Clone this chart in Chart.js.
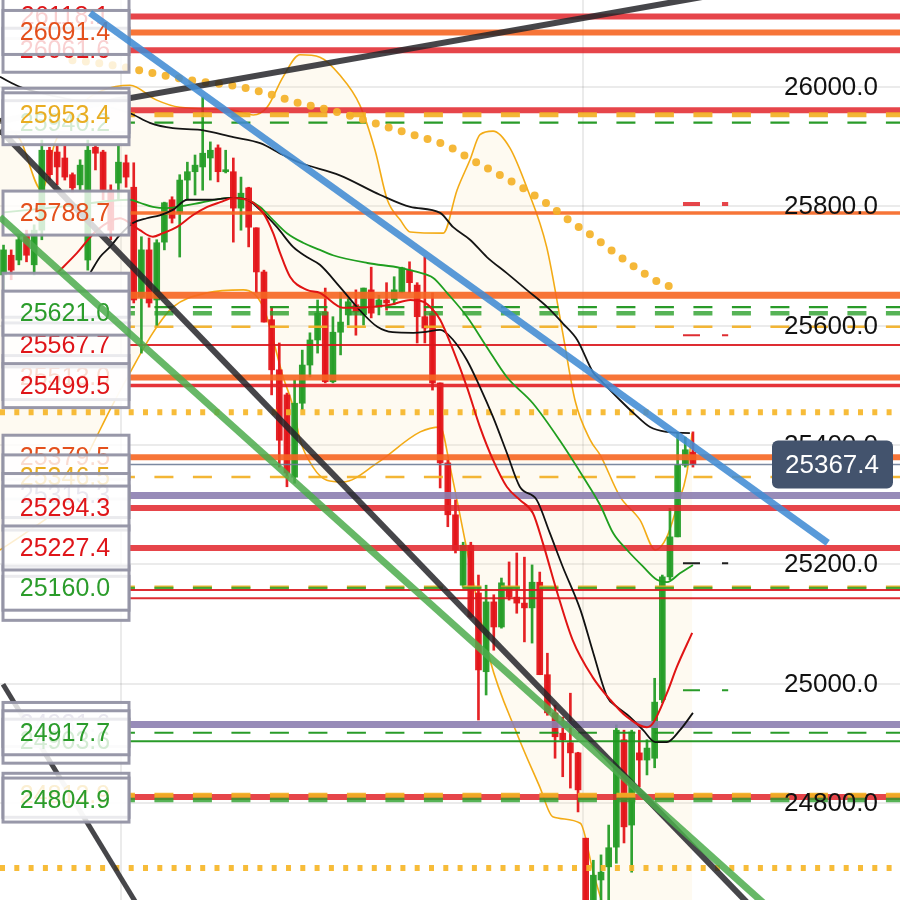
<!DOCTYPE html>
<html>
<head>
<meta charset="utf-8">
<script src="https://cdn.jsdelivr.net/npm/chart.js@4.4.1/dist/chart.umd.min.js"></script>
<style>
  html, body { margin: 0; padding: 0; background: #fff; }
  canvas { display: block; }
</style>
</head>
<body>
<canvas id="priceChart" width="900" height="900"></canvas>
<script>
// ---- candles (index 0..90) ----
const candleOpen  = [25685,25718,25710,25752,25702,25760,25894,25891,25881,25853,25836,25710,25899,25891,25827,25839,25873,25832,25648,25727,25643,25740,25811,25789,25844,25858,25866,25881,25898,25858,25858,25797,25831,25764,25690,25610,25526,25484,25346,25470,25534,25576,25623,25506,25589,25618,25635,25618,25660,25631,25643,25643,25656,25693,25668,25615,25621,25504,25370,25283,25165,25232,25152,25020,25137,25095,25162,25145,25135,25127,25170,25015,24951,24917,24901,24884,24741,24629,24671,24693,24726,24906,24763,24884,24872,24875,24973,25179,25246,25366,25388];
const candleHigh  = [25735,25727,25752,25760,25769,25911,25899,25903,25903,25856,25878,25911,25903,25894,25836,25903,25886,25873,25749,25747,25744,25807,25816,25853,25874,25886,25983,25908,25903,25894,25881,25849,25832,25764,25693,25631,25571,25487,25509,25559,25588,25643,25663,25615,25656,25646,25660,25663,25698,25651,25672,25682,25698,25707,25672,25715,25655,25504,25375,25308,25237,25237,25182,25165,25149,25177,25204,25219,25212,25199,25187,25051,24964,24944,24984,24885,24741,24704,24713,24763,24931,24922,24922,24922,24906,25009,25182,25294,25420,25413,25422];
const candleLow   = [25660,25677,25702,25707,25685,25744,25844,25836,25844,25824,25827,25693,25861,25811,25744,25811,25832,25638,25554,25631,25598,25727,25772,25715,25811,25819,25827,25844,25841,25856,25740,25760,25732,25655,25606,25484,25363,25330,25336,25459,25514,25554,25504,25504,25551,25601,25584,25601,25613,25618,25626,25635,25655,25655,25571,25571,25492,25328,25263,25219,25162,25110,24939,24981,25056,25093,25140,25118,25070,25068,25015,24947,24875,24844,24825,24785,24621,24621,24630,24630,24699,24733,24684,24827,24847,24859,24968,25174,25246,25363,25363];
const candleClose = [25727,25693,25744,25718,25760,25894,25853,25866,25849,25831,25869,25894,25889,25827,25760,25874,25849,25643,25727,25638,25739,25806,25780,25844,25858,25869,25889,25894,25858,25861,25797,25822,25765,25690,25606,25526,25408,25353,25470,25534,25576,25621,25506,25589,25606,25640,25623,25663,25621,25643,25638,25660,25697,25672,25615,25596,25504,25370,25283,25224,25232,25112,25023,25137,25095,25169,25145,25135,25127,25170,25015,24951,24911,24906,24884,24822,24629,24679,24684,24725,24922,24760,24919,24872,24892,24969,25179,25246,25366,25392,25367.4];

// ---- moving averages and bands: [candle index, price] ----
const maRed = [[7,25688],[9.6,25722],[12.2,25760],[15.2,25780],[16.5,25772],[17.8,25760],[19.5,25749],[20.8,25755],[22.6,25765],[24.7,25785],[26.6,25799],[28.3,25807],[30,25814],[31.8,25811],[32.6,25806],[33.9,25789],[35.2,25755],[36.1,25722],[37.4,25682],[39.6,25660],[41.3,25655],[44.3,25630],[47.5,25631],[50.5,25635],[53.1,25643],[54.8,25640],[56.1,25626],[57,25610],[58.7,25559],[60.5,25497],[62.2,25430],[63.9,25375],[65.7,25330],[67.4,25308],[69.1,25286],[70.4,25236],[72.3,25152],[74.3,25073],[76.9,25011],[79.2,24973],[81.4,24944],[84,24927],[84.8,24934],[86.6,24984],[87.9,25028],[89.9,25085]];
const maBlack = [[11.3,25688],[12.6,25715],[13.9,25732],[15.2,25752],[16.9,25772],[18.7,25780],[20.4,25785],[22.1,25794],[24,25811],[26.6,25811],[30,25814],[31.8,25811],[33.5,25794],[35.7,25765],[37.8,25732],[39.6,25715],[41.3,25702],[43.9,25665],[46.5,25626],[48.8,25598],[50.8,25589],[53.5,25588],[54.8,25589],[57,25593],[58.7,25576],[60.5,25542],[62.2,25497],[63.9,25447],[65.7,25387],[67.4,25330],[69.6,25308],[71.3,25253],[73,25196],[75.3,25124],[77,25051],[78.8,24978],[80.1,24961],[81.8,24944],[83.5,24922],[85.1,24902],[86.6,24902],[88.3,24922],[90,24951]];
const maBlackSlow = [[-0.46,26017],[2.2,26000],[16.5,25956],[19.1,25940],[22.1,25931],[25.7,25928],[30,25916],[33.5,25906],[36.5,25886],[38.7,25873],[43.9,25852],[49.2,25819],[53.1,25799],[57,25789],[58.7,25765],[60.9,25744],[63.1,25715],[65.7,25688],[68.3,25660],[71,25631],[73,25604],[74.9,25576],[77,25521],[77.9,25509],[80.5,25475],[82.2,25454],[84.4,25430],[86.6,25422],[89.6,25420]];
const maGreen = [[0,25790],[8,25800],[16.5,25811],[17.8,25806],[19.5,25799],[21.3,25797],[24,25802],[25.7,25806],[29.6,25814],[31.8,25811],[33.5,25799],[35.2,25777],[37,25755],[39.1,25739],[41.3,25727],[43,25718],[47.5,25705],[51.8,25697],[54,25690],[56.1,25680],[57.9,25655],[60.5,25615],[63.1,25564],[65.7,25514],[69.1,25470],[72.6,25408],[75.7,25346],[77.9,25299],[79.6,25252],[81.4,25224],[83.5,25196],[85.3,25174],[86.6,25170],[88.3,25185],[90,25199]];
const maDotted = [[9,26045],[13,26039],[17,26030],[20,26022],[24,26012],[27,26007],[31,26000],[35,25987],[38,25975],[43,25960],[47,25945],[50,25933],[54,25918],[58,25901],[61,25879],[65,25851],[68,25829],[71,25804],[74,25775],[77,25749],[80,25720],[83,25693],[86,25670],[88,25663]];
const bbUpper = [[-0.46,25945],[2.2,25911],[5,25827],[6.7,25906],[10,25970],[16.5,26003],[20,25978],[23,25966],[30,25961],[32.6,25953],[34.4,25966],[36.5,26017],[38.7,26054],[41.3,26050],[43.9,26020],[46.5,25970],[48.5,25894],[50.1,25811],[51.8,25777],[53.1,25757],[57.4,25755],[59.2,25827],[60.9,25878],[62.2,25920],[63.9,25926],[66.1,25898],[68.3,25832],[70.9,25732],[73,25588],[74.6,25475],[76.6,25408],[77.9,25383],[80.5,25313],[83.1,25274],[85.1,25224],[86.6,25246],[87.9,25296],[89.2,25353],[89.9,25420]];
const bbLower = [[-0.46,25224],[3.5,25258],[7.4,25299],[11.3,25392],[13.9,25459],[16.5,25521],[19.5,25588],[22.1,25631],[26.6,25655],[31.3,25660],[33.9,25631],[36.5,25514],[37.8,25464],[38.7,25409],[40.4,25363],[42.2,25341],[44.3,25338],[48.8,25370],[54.4,25422],[57,25430],[58.3,25363],[60.5,25224],[63.5,25040],[67,24917],[70,24827],[71.7,24777],[75.3,24766],[77,24683],[78.5,24621],[84.4,24503],[89.9,24470]];

// ---- drawn trend lines: two [index, price] ends each ----
const trendBlue = [[11.3,26124],[107.6,25236]];
const trendGreen = [[-0.46,25782],[102.7,24592]];
const trendBlackUp = [[-0.46,25943],[93.5,26156]];
const trendBlackDown = [[-0.46,25928],[100.7,24585]];
const trendBlackLow = [[-0.07,24999],[17.8,24622]];

// ---- horizontal levels ----
const levelValues = [26118.1,26091.4,26061.6,25961.0,25953.4,25940.2,25788.7,25651.0,25631.0,25621.0,25598.0,25567.7,25513.0,25499.5,25455.0,25379.5,25367.4,25346.5,25315.3,25294.3,25227.4,25162.0,25160.0,25157.0,25143.0,24931.6,24917.7,24903.6,24810.0,24812.9,24804.9,24691.0];
const levelKinds = ['red','orange','red','red','yellowDash','greenDashThin','orangeMid','orangeWide','greenDashThin','greenDash','yellowDashThin','redThin','orange','redMid','yellowDots','orange','price','yellowDashThin','purple','red','red','yellowDashMid','greenDashMid','redThin','redThin','purple','greenDashThin','greenThin','red','yellowDash','greenDash','yellowDots'];

// left label boxes, in drawing order (later ones cover earlier)
const boxValues = [26118.1,26061.6,26091.4,25961.0,25940.2,25953.4,25788.7,25651.0,25513.0,25567.7,25621.0,25499.5,25379.5,25346.5,25315.3,25294.3,25143.0,25160.0,25227.4,24931.6,24903.6,24917.7,24812.9,24804.9];
const boxTextKinds = ['red','red','orange','none','green','yellow','orange','none','orange','red','green','red','orange','yellow','purple','red','none','green','red','purple','green','green','yellow','green'];

// little right-hand markers
const markerValues = [25804, 25584, 25202, 24989];
const markerKinds = ['red', 'redThin', 'black', 'green'];

const yTicks = [24800, 25000, 25200, 25400, 25600, 25800, 26000];
const xGridAt = [15.3, 75.7];

const X_MIN = -0.46, X_MAX = 117.03;
const Y_MIN = 24637.4, Y_MAX = 26145.8;
const LEVEL_START = 16.5;
const MARK_FROM = 88.7, MARK_TO = 94.6;

const UP = 'rgba(38,158,40,0.95)';
const DOWN = 'rgba(228,22,26,0.95)';
const DASH = [19, 19.5];

const levelStyle = {
  red:            { color: 'rgba(226,36,42,0.85)', width: 6 },
  redMid:         { color: 'rgba(226,30,36,0.9)', width: 3.5 },
  redThin:        { color: 'rgba(218,22,28,0.9)', width: 2 },
  orange:         { color: 'rgba(246,102,34,0.9)', width: 6 },
  orangeWide:     { color: 'rgba(246,102,34,0.9)', width: 7 },
  orangeMid:      { color: 'rgba(246,102,34,0.9)', width: 3.5 },
  purple:         { color: 'rgba(140,126,176,0.9)', width: 7 },
  price:          { color: 'rgba(110,124,150,0.9)', width: 1.5 },
  yellowDash:     { color: 'rgba(242,176,36,0.92)', width: 5, dash: DASH },
  yellowDashMid:  { color: 'rgba(242,176,36,0.92)', width: 3, dash: DASH },
  yellowDashThin: { color: 'rgba(242,176,36,0.92)', width: 2.5, dash: DASH },
  greenDash:      { color: 'rgba(44,160,44,0.8)', width: 4.5, dash: DASH },
  greenDashMid:   { color: 'rgba(44,160,44,0.85)', width: 3, dash: DASH },
  greenDashThin:  { color: 'rgba(30,150,30,0.95)', width: 2.2, dash: DASH },
  greenThin:      { color: 'rgba(30,150,30,0.95)', width: 2 },
  yellowDots:     { color: 'rgba(246,182,40,0.92)', width: 6, dash: [5, 9.3], full: true },
  black:          { color: 'rgba(20,20,20,0.95)', width: 2 },
  green:          { color: 'rgba(30,150,30,0.95)', width: 2 }
};
const TEXT = { red: '#df1519', orange: '#e4501c', yellow: '#e9ad22', green: '#2b9c2b', purple: '#8f87b0' };

const pts = pairs => pairs.map(p => ({ x: p[0], y: p[1] }));
const idx = candleOpen.map((_, i) => i);
const candleColors = idx.map(i => candleClose[i] >= candleOpen[i] ? UP : DOWN);

function lineSet(data, color, width, order, extra) {
  return Object.assign({
    type: 'line', data, borderColor: color, borderWidth: width, pointRadius: 0,
    fill: false, order, tension: 0
  }, extra || {});
}

const datasets = [];

// bollinger bands with a light fill between them
datasets.push(lineSet(pts(bbUpper), 'rgba(242,166,10,0.95)', 1.6, 95,
  { fill: '+1', backgroundColor: 'rgba(250,222,170,0.16)', cubicInterpolationMode: 'monotone' }));
datasets.push(lineSet(pts(bbLower), 'rgba(242,166,10,0.95)', 1.6, 94,
  { cubicInterpolationMode: 'monotone' }));

// candles: wicks then bodies
datasets.push({
  type: 'bar', order: 81, grouped: false, barThickness: 2, borderWidth: 0,
  backgroundColor: candleColors,
  data: idx.map(i => ({ x: i, y: [candleLow[i], candleHigh[i]] }))
});
datasets.push({
  type: 'bar', order: 80, grouped: false, barThickness: 6, borderWidth: 0, minBarLength: 2,
  backgroundColor: candleColors,
  data: idx.map(i => ({ x: i, y: [candleOpen[i], candleClose[i]] }))
});

// horizontal levels, later ones on top
levelValues.forEach((v, k) => {
  const st = levelStyle[levelKinds[k]];
  const from = st.full ? X_MIN : LEVEL_START;
  datasets.push(lineSet([{ x: from, y: v }, { x: X_MAX, y: v }], st.color, st.width, 70 - k / 100, {
    borderDash: st.dash || [], borderDashOffset: st.full ? 0 : 14, borderCapStyle: 'butt'
  }));
});

markerValues.forEach((v, k) => {
  const st = levelStyle[markerKinds[k]];
  datasets.push(lineSet([{ x: MARK_FROM, y: v }, { x: MARK_TO, y: v }], st.color, Math.min(st.width, 4), 65,
    { borderDash: [17, 22] }));
});

// moving averages
datasets.push(lineSet(pts(maBlackSlow), '#151515', 1.8, 60, { cubicInterpolationMode: 'monotone' }));
datasets.push(lineSet(pts(maGreen), '#1f9e1f', 1.8, 59, { cubicInterpolationMode: 'monotone' }));
datasets.push(lineSet(pts(maBlack), '#111', 1.8, 58, { cubicInterpolationMode: 'monotone' }));
datasets.push(lineSet(pts(maRed), '#e01414', 2, 57, { cubicInterpolationMode: 'monotone' }));
datasets.push(lineSet(pts(maDotted), 'rgba(244,178,40,0.92)', 8, 55, {
  cubicInterpolationMode: 'monotone', borderDash: [0, 13.5], borderCapStyle: 'round'
}));

// trend lines: black ones go under the label boxes, green and blue over them
datasets.push(lineSet(pts(trendBlackUp), 'rgba(38,38,42,0.85)', 6, 20));
datasets.push(lineSet(pts(trendBlackDown), 'rgba(38,38,42,0.85)', 6, 20));
datasets.push(lineSet(pts(trendBlackLow), 'rgba(38,38,42,0.85)', 5, 20));
datasets.push(lineSet(pts(trendGreen), 'rgba(76,172,76,0.85)', 7, 12, { boxesUnder: true }));
datasets.push(lineSet(pts(trendBlue), 'rgba(66,140,212,0.88)', 7, 11));

const levelBoxes = {
  id: 'levelBoxes',
  beforeDraw(chart) { chart.$boxesDone = false; },
  beforeDatasetDraw(chart, args) {
    const ds = chart.data.datasets[args.index];
    if (!ds.boxesUnder || chart.$boxesDone) return;
    chart.$boxesDone = true;
    const ctx = chart.ctx, y = chart.scales.y;
    ctx.save();
    ctx.font = '25px "Liberation Sans", Arial, sans-serif';
    ctx.textAlign = 'center';
    ctx.textBaseline = 'middle';
    boxValues.forEach((v, k) => {
      const py = y.getPixelForValue(v);
      ctx.fillStyle = 'rgba(255,255,255,0.8)';
      ctx.fillRect(3, py - 22, 126, 44);
      ctx.strokeStyle = 'rgba(146,146,164,0.95)';
      ctx.lineWidth = 3;
      ctx.strokeRect(3, py - 22, 126, 44);
      const kind = boxTextKinds[k];
      if (kind !== 'none') {
        ctx.fillStyle = TEXT[kind];
        ctx.fillText(v.toFixed(1), 65, py + 1);
      }
    });
    ctx.restore();
  },
  afterDatasetsDraw(chart) {
    const ctx = chart.ctx, y = chart.scales.y;
    ctx.save();
    ctx.font = '26px "Liberation Sans", Arial, sans-serif';
    ctx.textBaseline = 'middle';
    ctx.textAlign = 'right';
    ctx.fillStyle = '#111';
    yTicks.forEach(v => ctx.fillText(v.toFixed(1), 878, y.getPixelForValue(v) + 1));

    // last price tag
    const last = candleClose[candleClose.length - 1];
    const py = y.getPixelForValue(last);
    ctx.fillStyle = '#43536d';
    ctx.beginPath();
    if (ctx.roundRect) ctx.roundRect(772, py - 24, 121, 48, 6);
    else ctx.rect(772, py - 24, 121, 48);
    ctx.fill();
    ctx.fillStyle = '#fff';
    ctx.textAlign = 'center';
    ctx.fillText(last.toFixed(1), 832, py + 1);
    ctx.restore();
  }
};

new Chart(document.getElementById('priceChart'), {
  type: 'line',
  data: { datasets },
  plugins: [levelBoxes],
  options: {
    responsive: false,
    animation: false,
    devicePixelRatio: 1,
    layout: { padding: 0 },
    plugins: { legend: { display: false }, tooltip: { enabled: false } },
    scales: {
      x: {
        type: 'linear', min: X_MIN, max: X_MAX, offset: false,
        grid: { color: 'rgba(0,0,0,0.08)', lineWidth: 2, drawTicks: false, offset: false },
        border: { display: false },
        ticks: { display: false },
        afterBuildTicks: s => { s.ticks = xGridAt.map(v => ({ value: v })); },
        afterFit: s => { s.height = 0; }
      },
      y: {
        type: 'linear', position: 'right', min: Y_MIN, max: Y_MAX, beginAtZero: false,
        grid: { color: 'rgba(0,0,0,0.08)', lineWidth: 2, drawTicks: false },
        border: { display: false },
        ticks: { display: false },
        afterBuildTicks: s => { s.ticks = yTicks.map(v => ({ value: v })); },
        afterFit: s => { s.width = 0; }
      }
    }
  }
});
</script>
</body>
</html>
